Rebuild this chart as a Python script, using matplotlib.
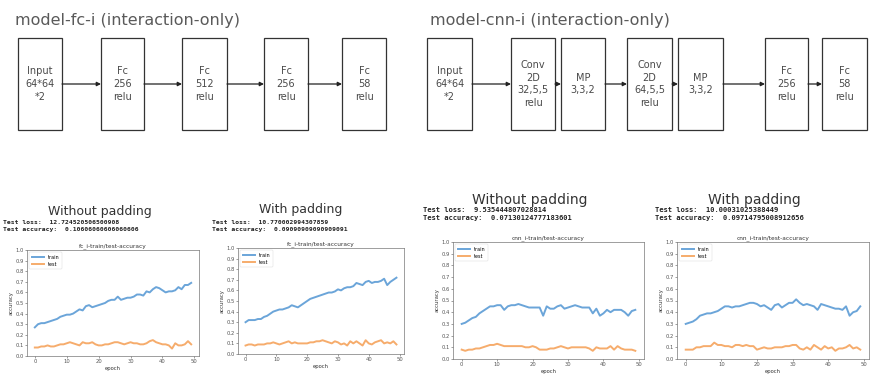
import numpy as np
import matplotlib
matplotlib.use("Agg")
import matplotlib.pyplot as plt
from matplotlib.patches import Rectangle

# network diagrams
fc_title = "model-fc-i (interaction-only)"
fc_layers = ["Input\n64*64\n*2", "Fc\n256\nrelu", "Fc\n512\nrelu", "Fc\n256\nrelu", "Fc\n58\nrelu"]
fc_boxes_x = [(18, 62), (101, 144), (182, 227), (264, 308), (342, 386)]

cnn_title = "model-cnn-i (interaction-only)"
cnn_layers = ["Input\n64*64\n*2", "Conv\n2D\n32,5,5\nrelu", "MP\n3,3,2", "Conv\n2D\n64,5,5\nrelu",
              "MP\n3,3,2", "Fc\n256\nrelu", "Fc\n58\nrelu"]
cnn_boxes_x = [(427, 472), (511, 555), (561, 605), (627, 672), (678, 723), (765, 808), (822, 867)]

# training curves
epochs = np.arange(50)

fc_nopad_train = [0.27, 0.30, 0.31, 0.31, 0.32, 0.33, 0.34, 0.35, 0.37, 0.38,
                  0.39, 0.39, 0.40, 0.42, 0.44, 0.43, 0.47, 0.48, 0.46, 0.47,
                  0.48, 0.49, 0.50, 0.52, 0.53, 0.53, 0.56, 0.53, 0.54, 0.55,
                  0.55, 0.56, 0.58, 0.58, 0.57, 0.61, 0.60, 0.63, 0.65, 0.64,
                  0.62, 0.60, 0.61, 0.61, 0.62, 0.65, 0.63, 0.67, 0.67, 0.69]
fc_nopad_test = [0.08, 0.08, 0.09, 0.09, 0.10, 0.09, 0.09, 0.10, 0.11, 0.11,
                 0.12, 0.13, 0.12, 0.11, 0.10, 0.13, 0.12, 0.12, 0.13, 0.11,
                 0.10, 0.10, 0.11, 0.11, 0.12, 0.13, 0.13, 0.12, 0.11, 0.12,
                 0.13, 0.12, 0.12, 0.11, 0.11, 0.12, 0.14, 0.15, 0.13, 0.12,
                 0.11, 0.11, 0.10, 0.07, 0.12, 0.10, 0.10, 0.11, 0.14, 0.11]

fc_pad_train = [0.30, 0.32, 0.32, 0.32, 0.33, 0.33, 0.35, 0.36, 0.38, 0.40,
                0.41, 0.42, 0.42, 0.43, 0.44, 0.46, 0.45, 0.44, 0.46, 0.48,
                0.50, 0.52, 0.53, 0.54, 0.55, 0.56, 0.57, 0.58, 0.58, 0.59,
                0.61, 0.60, 0.62, 0.63, 0.63, 0.64, 0.67, 0.66, 0.65, 0.68,
                0.69, 0.67, 0.68, 0.68, 0.69, 0.71, 0.65, 0.68, 0.70, 0.72]
fc_pad_test = [0.08, 0.09, 0.09, 0.08, 0.09, 0.09, 0.09, 0.10, 0.10, 0.11,
               0.10, 0.09, 0.10, 0.11, 0.12, 0.10, 0.11, 0.10, 0.10, 0.10,
               0.10, 0.11, 0.11, 0.12, 0.12, 0.13, 0.12, 0.11, 0.10, 0.12,
               0.11, 0.09, 0.10, 0.08, 0.12, 0.10, 0.12, 0.10, 0.08, 0.13,
               0.10, 0.09, 0.11, 0.12, 0.13, 0.10, 0.11, 0.10, 0.12, 0.09]

cnn_nopad_train = [0.30, 0.31, 0.33, 0.35, 0.36, 0.39, 0.41, 0.43, 0.45, 0.45,
                   0.46, 0.46, 0.42, 0.45, 0.46, 0.46, 0.47, 0.46, 0.45, 0.44,
                   0.44, 0.44, 0.44, 0.37, 0.45, 0.43, 0.43, 0.45, 0.46, 0.43,
                   0.44, 0.45, 0.46, 0.45, 0.44, 0.44, 0.44, 0.39, 0.43, 0.37,
                   0.39, 0.42, 0.40, 0.42, 0.42, 0.42, 0.40, 0.37, 0.41, 0.42]
cnn_nopad_test = [0.08, 0.07, 0.08, 0.08, 0.09, 0.09, 0.10, 0.11, 0.12, 0.12,
                  0.13, 0.12, 0.11, 0.11, 0.11, 0.11, 0.11, 0.11, 0.10, 0.10,
                  0.11, 0.10, 0.08, 0.08, 0.08, 0.09, 0.09, 0.10, 0.11, 0.10,
                  0.09, 0.10, 0.10, 0.10, 0.10, 0.10, 0.09, 0.07, 0.10, 0.09,
                  0.09, 0.09, 0.11, 0.08, 0.11, 0.09, 0.08, 0.08, 0.08, 0.07]

cnn_pad_train = [0.30, 0.31, 0.32, 0.34, 0.37, 0.38, 0.39, 0.39, 0.40, 0.41,
                 0.43, 0.45, 0.45, 0.44, 0.45, 0.45, 0.46, 0.47, 0.48, 0.48,
                 0.47, 0.45, 0.46, 0.44, 0.42, 0.46, 0.47, 0.44, 0.46, 0.48,
                 0.48, 0.51, 0.48, 0.46, 0.47, 0.46, 0.45, 0.42, 0.47, 0.46,
                 0.45, 0.44, 0.43, 0.43, 0.42, 0.45, 0.37, 0.40, 0.41, 0.45]
cnn_pad_test = [0.08, 0.08, 0.08, 0.10, 0.10, 0.11, 0.11, 0.11, 0.14, 0.12,
                0.12, 0.11, 0.11, 0.10, 0.12, 0.12, 0.11, 0.12, 0.11, 0.11,
                0.08, 0.09, 0.10, 0.09, 0.09, 0.10, 0.10, 0.10, 0.11, 0.11,
                0.12, 0.12, 0.09, 0.08, 0.10, 0.08, 0.12, 0.10, 0.08, 0.11,
                0.09, 0.10, 0.07, 0.09, 0.09, 0.10, 0.12, 0.09, 0.10, 0.08]

panel_titles = ["Without padding", "With padding", "Without padding", "With padding"]
plot_titles = ["fc_i-train/test-accuracy", "fc_i-train/test-accuracy",
               "cnn_i-train/test-accuracy", "cnn_i-train/test-accuracy"]
test_losses = ["12.724520506500908", "10.770002994307859", "9.535444807028814", "10.00031025388449"]
test_accs = ["0.10606060606060606", "0.09090909090909091", "0.07130124777183601", "0.09714795008912656"]
train_series = [fc_nopad_train, fc_pad_train, cnn_nopad_train, cnn_pad_train]
test_series = [fc_nopad_test, fc_pad_test, cnn_nopad_test, cnn_pad_test]

W, H = 871, 377
fig = plt.figure(figsize=(W / 100, H / 100), dpi=100)
fig.patch.set_facecolor("white")

# overlay in pixel coordinates for diagrams and captions
bg = fig.add_axes([0, 0, 1, 1])
bg.set_xlim(0, W)
bg.set_ylim(H, 0)
bg.axis("off")

grey = "#4a4a4a"
box_top, box_bot, arrow_y = 38, 130, 84


def draw_diagram(title, title_x, layers, boxes):
    bg.text(title_x, 20, title, fontsize=11.5, color="#5a5a5a", va="center", ha="left")
    for label, (x0, x1) in zip(layers, boxes):
        bg.add_patch(Rectangle((x0, box_top), x1 - x0, box_bot - box_top,
                               fill=False, edgecolor="#333333", lw=0.9))
        bg.text((x0 + x1) / 2, arrow_y, label, fontsize=7, color=grey,
                ha="center", va="center", linespacing=1.35)
    for (a0, a1), (b0, b1) in zip(boxes[:-1], boxes[1:]):
        bg.annotate("", xy=(b0, arrow_y), xytext=(a1, arrow_y),
                    arrowprops=dict(arrowstyle="-|>", color="#222222", lw=0.9,
                                    mutation_scale=6, shrinkA=0, shrinkB=0))


draw_diagram(fc_title, 15, fc_layers, fc_boxes_x)
draw_diagram(cnn_title, 430, cnn_layers, cnn_boxes_x)

# caption positions: title centre, title y, text left, text y1, text y2, font sizes
captions = [(100, 211, 3, 222, 229, 9.0, 4.6),
            (301, 210, 212, 222, 229, 9.0, 4.6),
            (530, 200, 423, 210, 218, 10.0, 5.1),
            (754, 200, 655, 210, 218, 10.0, 5.1)]
for (cx, ty, lx, y1, y2, tfs, mfs), ttl, loss, acc in zip(captions, panel_titles, test_losses, test_accs):
    bg.text(cx, ty, ttl, fontsize=tfs, color="#333333", ha="center", va="center")
    bg.text(lx, y1, "Test loss:  " + loss, fontsize=mfs, family="DejaVu Sans Mono",
            color="#222222", va="center", fontweight="bold")
    bg.text(lx, y2, "Test accuracy:  " + acc, fontsize=mfs, family="DejaVu Sans Mono",
            color="#222222", va="center", fontweight="bold")

# plot areas in pixels: left, right, top, bottom
boxes_px = [(27, 199, 250, 356), (238, 404, 248, 354), (453, 644, 242, 359), (677, 869, 242, 359)]

for (l, r, t, b), ttl, tr, te in zip(boxes_px, plot_titles, train_series, test_series):
    ax = fig.add_axes([l / W, 1 - b / H, (r - l) / W, (b - t) / H])
    ax.plot(epochs, tr, color="#5b9bd5", lw=1.4, label="train", alpha=0.9)
    ax.plot(epochs, te, color="#f5a35c", lw=1.4, label="test", alpha=0.9)
    ax.set_ylim(0, 1.0)
    ax.set_yticks(np.arange(0, 1.01, 0.1))
    ax.set_xticks([0, 10, 20, 30, 40, 50])
    ax.set_title(ttl, fontsize=4.2, pad=2, color="#333333")
    ax.set_xlabel("epoch", fontsize=3.8, labelpad=1, color="#333333")
    ax.set_ylabel("accuracy", fontsize=3.8, labelpad=1, color="#333333")
    ax.tick_params(labelsize=3.8, length=1.5, width=0.4, pad=1, colors="#555555")
    for s in ax.spines.values():
        s.set_color("#777777")
        s.set_linewidth(0.5)
    leg = ax.legend(loc="upper left", fontsize=3.5, frameon=True, handlelength=2.5,
                    borderpad=0.5, labelspacing=0.4)
    leg.get_frame().set_linewidth(0.3)

fig.savefig("out.png", dpi=100)
